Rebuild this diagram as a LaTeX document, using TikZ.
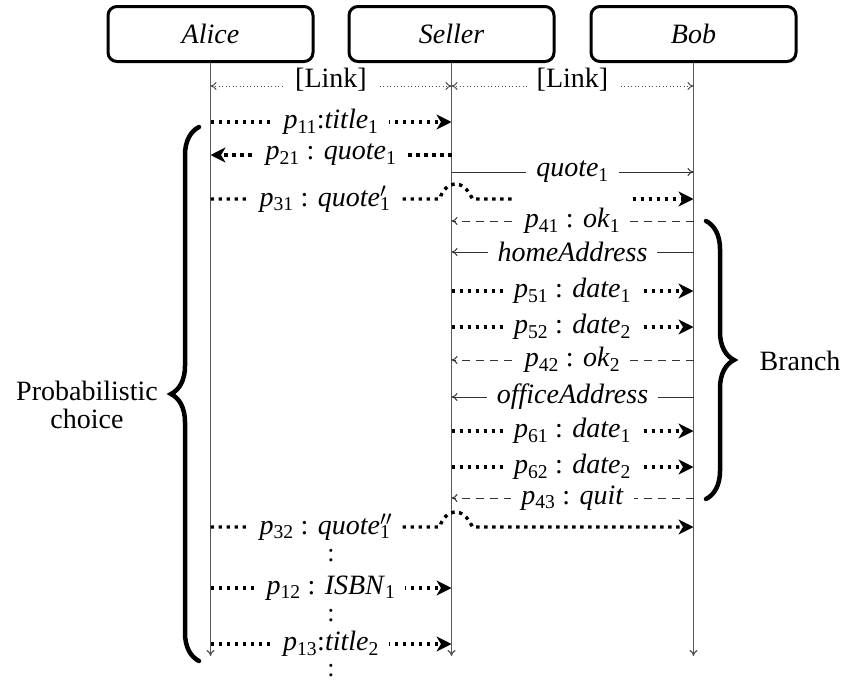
\documentclass[tikz,border=0pt]{standalone}
\usepackage{fontspec}
\setmainfont{Liberation Serif}
\usetikzlibrary{arrows.meta,decorations.pathreplacing,calc}
\newcommand\pp[1]{\textit{p}\textsubscript{\upshape #1}}
\newcommand\ti[2]{\textit{#1}\textsubscript{\upshape #2}}
\newcommand\tip[3]{\textit{#1}\rlap{\textsuperscript{#2}}\textsubscript{\upshape #3}}
\begin{document}
\begin{tikzpicture}[x=1pt,y=-1pt, font=\fontsize{28}{28}\selectfont,
 actor/.style={draw, line width=3pt, rounded corners=9pt, minimum width=205pt, minimum height=55pt, font=\fontsize{28}{28}\selectfont\itshape},
 life/.style={draw=black!65, line width=1.3pt, -{To[length=6pt,width=8pt]}},
 prob/.style={line width=3.4pt, dash pattern=on 3.4pt off 4.6pt, -{Stealth[length=15pt,width=15pt,inset=4.5pt]}},
 probline/.style={line width=3.4pt, dash pattern=on 3.4pt off 4.6pt},
 plain/.style={line width=1pt, draw=black!80, -{To[length=6pt,width=8pt]}},
 dsh/.style={line width=1pt, draw=black!80, dash pattern=on 8pt off 6pt, -{To[length=6pt,width=8pt]}},
 lnk/.style={line width=1pt, draw=black!70, dash pattern=on 1pt off 2.5pt, {To[length=6pt,width=8pt]}-{To[length=6pt,width=8pt]}},
 lab/.style={fill=white, inner xsep=10pt, inner ysep=0pt},
 vdots/.style={inner sep=0pt, font=\fontsize{26}{26}\selectfont},
 brc/.style={decorate, decoration={brace, amplitude=28pt}, line width=4.5pt, line cap=round},
]
\useasboundingbox (0,0) rectangle (849,683);

% participants
\node[actor] (alice)  at (210.5,34) {Alice};
\node[actor] (seller) at (451.5,34) {Seller};
\node[actor] (bob)    at (693.5,34) {Bob};

\coordinate (aend) at (210.5,656);
\coordinate (send) at (451.5,656);
\coordinate (bend) at (693.5,656);
\draw[life] (alice.south) -- (aend);
\draw[life] (seller.south) -- (send);
\draw[life] (bob.south) -- (bend);

% row coordinates on lifelines
\foreach \n/\yy in {L/86, a/122, b/155, c/172, d/199, e/221, f/252, g/291, h/327, i/360, j/397, k/431, l/467, m/498, n/527, o/588, p/644} {
  \coordinate (A\n) at (210.5,\yy);
  \coordinate (S\n) at (451.5,\yy);
  \coordinate (B\n) at (693.5,\yy);
}

% links
\draw[lnk] (AL) -- node[lab, yshift=6pt]{[Link]} (SL);
\draw[lnk] (SL) -- node[lab, yshift=6pt]{[Link]} (BL);

% messages
\draw[prob] (Aa) -- node[lab]{\pp{11}:\ti{title}{1}} (Sa);
\draw[prob] (Sb) -- node[lab]{\pp{21} : \ti{quote}{1}} (Ab);
\draw[plain] (Sc) -- node[lab]{\ti{quote}{1}} (Bc);

\draw[probline] (Ad) -- node[lab]{\pp{31} : \tip{quote}{$\prime$}{1}} ($(Sd)+(-12,0)$)
   .. controls ($(Sd)+(-6,-18)$) and ($(Sd)+(11,-22)$) .. ($(Sd)+(21,0)$) -- ($(Sd)+(62,0)$);
\coordinate (dgap) at ($(Bd)+(-61,0)$);
\draw[prob] (dgap) -- (Bd);

\draw[dsh] (Be) -- node[lab]{\pp{41} : \ti{ok}{1}} (Se);
\draw[plain] (Bf) -- node[lab]{\textit{homeAddress}} (Sf);
\draw[prob] (Sg) -- node[lab]{\pp{51} : \ti{date}{1}} (Bg);
\draw[prob] (Sh) -- node[lab]{\pp{52} : \ti{date}{2}} (Bh);
\draw[dsh] (Bi) -- node[lab]{\pp{42} : \ti{ok}{2}} (Si);
\draw[plain] (Bj) -- node[lab]{\textit{officeAddress}} (Sj);
\draw[prob] (Sk) -- node[lab]{\pp{61} : \ti{date}{1}} (Bk);
\draw[prob] (Sl) -- node[lab]{\pp{62} : \ti{date}{2}} (Bl);
\draw[dsh] (Bm) -- node[lab]{\pp{43} : \textit{quit}} (Sm);

\draw[prob] (An) -- node[lab]{\pp{32} : \tip{quote}{$\prime\prime$}{1}} ($(Sn)+(-12,0)$)
   .. controls ($(Sn)+(-6,-18)$) and ($(Sn)+(11,-22)$) .. ($(Sn)+(21,0)$) -- (Bn);

\draw[prob] (Ao) -- node[lab]{\pp{12} : \ti{ISBN}{1}} (So);
\draw[prob] (Ap) -- node[lab]{\pp{13}:\ti{title}{2}} (Sp);

% vertical dots
\node[vdots] (v1) at (331,556) {:};
\node[vdots] (v2) at (331,616) {:};
\node[vdots] (v3) at (331,671) {:};

% braces
\coordinate (pcb) at (199,661);
\coordinate (pct) at (199,127);
\draw[brc] (pcb) -- (pct);
\node[align=center] (pc) at (87,405) {Probabilistic\\choice};

\coordinate (brt) at (706,221);
\coordinate (brb) at (706,499);
\draw[brc] (brt) -- (brb);
\node (br) at (800,361) {Branch};
\end{tikzpicture}
\end{document}
